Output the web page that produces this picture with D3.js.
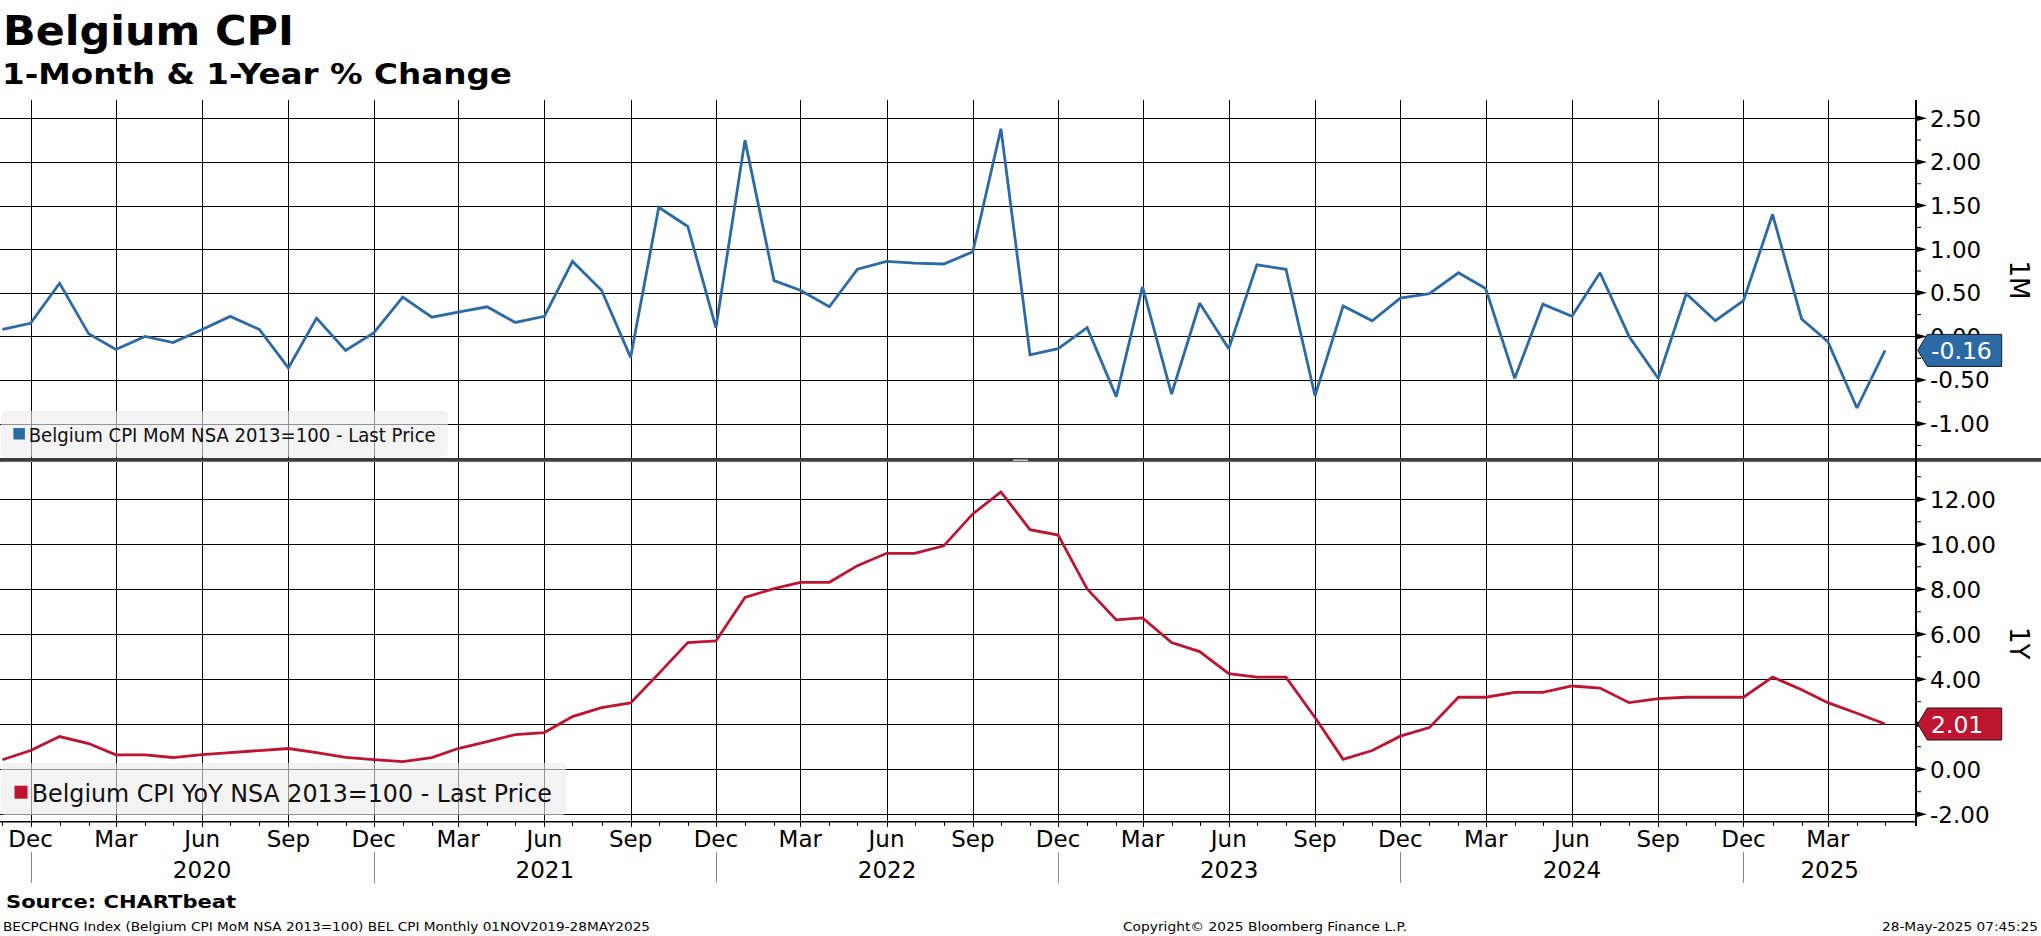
<!DOCTYPE html>
<html>
<head>
<meta charset="utf-8">
<script src="https://cdn.jsdelivr.net/npm/d3@7"></script>
<style>
  html, body { margin: 0; padding: 0; background: #ffffff; }
  svg { display: block; }
  text { font-family: "DejaVu Sans", "Noto Sans", sans-serif; }
</style>
</head>
<body>
<script>
// ---------------- DATA ----------------
const months = [
  "2019-11","2019-12",
  "2020-01","2020-02","2020-03","2020-04","2020-05","2020-06","2020-07","2020-08","2020-09","2020-10","2020-11","2020-12",
  "2021-01","2021-02","2021-03","2021-04","2021-05","2021-06","2021-07","2021-08","2021-09","2021-10","2021-11","2021-12",
  "2022-01","2022-02","2022-03","2022-04","2022-05","2022-06","2022-07","2022-08","2022-09","2022-10","2022-11","2022-12",
  "2023-01","2023-02","2023-03","2023-04","2023-05","2023-06","2023-07","2023-08","2023-09","2023-10","2023-11","2023-12",
  "2024-01","2024-02","2024-03","2024-04","2024-05","2024-06","2024-07","2024-08","2024-09","2024-10","2024-11","2024-12",
  "2025-01","2025-02","2025-03","2025-04","2025-05"
];

// Belgium CPI MoM (%)
const momValues = [
  0.08, 0.15,
  0.61, 0.03, -0.15, 0.00, -0.07, 0.08, 0.23, 0.08, -0.36, 0.21, -0.16, 0.04,
  0.45, 0.22, 0.28, 0.34, 0.16, 0.23, 0.86, 0.53, -0.24, 1.48, 1.26, 0.10,
  2.25, 0.64, 0.53, 0.34, 0.77, 0.86, 0.84, 0.83, 0.97, 2.38, -0.21, -0.14,
  0.10, -0.69, 0.57, -0.66, 0.38, -0.14, 0.82, 0.77, -0.68, 0.35, 0.18, 0.44,
  0.49, 0.73, 0.55, -0.48, 0.37, 0.23, 0.73, 0.00, -0.48, 0.49, 0.18, 0.41,
  1.40, 0.20, -0.06, -0.82, -0.16
];

// Belgium CPI YoY (%)
const yoyValues = [
  0.42, 0.83,
  1.45, 1.14, 0.64, 0.64, 0.52, 0.65, 0.74, 0.83, 0.92, 0.74, 0.53, 0.43,
  0.34, 0.52, 0.92, 1.23, 1.54, 1.63, 2.34, 2.74, 2.95, 4.25, 5.63, 5.70,
  7.64, 8.03, 8.31, 8.31, 9.05, 9.60, 9.60, 9.93, 11.35, 12.33, 10.65, 10.41,
  8.01, 6.64, 6.73, 5.63, 5.23, 4.25, 4.09, 4.09, 2.30, 0.44, 0.83, 1.47,
  1.85, 3.20, 3.20, 3.42, 3.42, 3.70, 3.61, 2.96, 3.14, 3.20, 3.20, 3.20,
  4.10, 3.53, 2.96, 2.49, 2.01
];

const topTicks = [2.5, 2.0, 1.5, 1.0, 0.5, 0.0, -0.5, -1.0];
const topMinorTicks = [2.25, 1.75, 1.25, 0.75, 0.25, -0.25, -0.75, -1.25];
const botTicks = [12, 10, 8, 6, 4, 2, 0, -2];
const botMinorTicks = [13, 11, 9, 7, 5, 3, 1, -1];
const yearLabels = ["2020", "2021", "2022", "2023", "2024", "2025"];

const titleText = "Belgium CPI";
const subtitleText = "1-Month & 1-Year % Change";
const legendTop = "Belgium CPI MoM NSA 2013=100 - Last Price";
const legendBot = "Belgium CPI YoY NSA 2013=100 - Last Price";
const axisTitleTop = "1M";
const axisTitleBot = "1Y";
const sourceText = "Source: CHARTbeat";
const footerLeft = "BECPCHNG Index (Belgium CPI MoM NSA 2013=100) BEL CPI  Monthly 01NOV2019-28MAY2025";
const footerMid = "Copyright\u00A9 2025 Bloomberg Finance L.P.";
const footerRight = "28-May-2025 07:45:25";

// ---------------- LAYOUT ----------------
const W = 2041, H = 936;
const plotL = 0, plotR = 1916;
const topY0 = 100, topY1 = 458;
const divY = 460;
const botY0 = 462, axisY = 821.7;
const BLUE = "#2c6aa6", RED = "#bf142f";

const parse = d3.utcParse("%Y-%m");
const dates = months.map(parse);
const locale = d3.formatLocale({ decimal: ".", thousands: ",", grouping: [3], currency: ["", ""], minus: "-" });
const fmt2 = locale.format(".2f");

const x = d3.scaleUtc()
  .domain([new Date(Date.UTC(2019, 9, 31)), new Date(Date.UTC(2025, 5, 3))])
  .range([1.5, 1916]);
const yTop = d3.scaleLinear().domain([-1, 2.5]).range([423.7, 118.3]);
const yBot = d3.scaleLinear().domain([-2, 12]).range([814.2, 499.3]);

const svg = d3.select("body").append("svg")
  .attr("width", W).attr("height", H)
  .attr("viewBox", `0 0 ${W} ${H}`);
svg.append("rect").attr("width", W).attr("height", H).attr("fill", "#fff");

// ---------------- TITLES ----------------
svg.append("text").attr("x", 3).attr("y", 45)
  .attr("font-size", 41).attr("font-weight", "bold")
  .attr("textLength", 291).attr("lengthAdjust", "spacingAndGlyphs")
  .text(titleText);
svg.append("text").attr("x", 2).attr("y", 83.5)
  .attr("font-size", 29).attr("font-weight", "bold")
  .attr("textLength", 510).attr("lengthAdjust", "spacingAndGlyphs")
  .text(subtitleText);

// ---------------- GRID ----------------
const allMonths = d3.utcMonth.range(x.domain()[0], x.domain()[1]);
const quarterTicks = allMonths.filter(d => d.getUTCMonth() % 3 === 2 && x(d) < plotR - 20);
const decTicks = allMonths.filter(d => d.getUTCMonth() === 11);

const grid = svg.append("g").attr("stroke", "#000").attr("stroke-width", 1).attr("shape-rendering", "crispEdges");
grid.selectAll(".vt").data(quarterTicks).join("line")
  .attr("x1", d => Math.round(x(d)) + 0.5).attr("x2", d => Math.round(x(d)) + 0.5)
  .attr("y1", topY0).attr("y2", topY1);
grid.selectAll(".vb").data(quarterTicks).join("line")
  .attr("x1", d => Math.round(x(d)) + 0.5).attr("x2", d => Math.round(x(d)) + 0.5)
  .attr("y1", botY0).attr("y2", axisY);
grid.selectAll(".ht").data(topTicks).join("line")
  .attr("x1", plotL).attr("x2", plotR)
  .attr("y1", d => Math.round(yTop(d)) + 0.5).attr("y2", d => Math.round(yTop(d)) + 0.5);
grid.selectAll(".hb").data(botTicks).join("line")
  .attr("x1", plotL).attr("x2", plotR)
  .attr("y1", d => Math.round(yBot(d)) + 0.5).attr("y2", d => Math.round(yBot(d)) + 0.5);

// ---------------- LEGENDS (semi-transparent) ----------------
svg.append("rect").attr("x", 1).attr("y", 411).attr("width", 447).attr("height", 46)
  .attr("rx", 4).attr("fill", "#ececec").attr("fill-opacity", 0.62);
svg.append("rect").attr("x", 13.4).attr("y", 428).attr("width", 11.5).attr("height", 11.5).attr("fill", BLUE);
svg.append("text").attr("x", 28.7).attr("y", 442.3).attr("font-size", 19)
  .attr("textLength", 407).attr("lengthAdjust", "spacingAndGlyphs").attr("fill", "#111")
  .text(legendTop);

svg.append("rect").attr("x", 1).attr("y", 763).attr("width", 565).attr("height", 52)
  .attr("rx", 4).attr("fill", "#ececec").attr("fill-opacity", 0.62);
svg.append("rect").attr("x", 14.5).attr("y", 785.7).attr("width", 13).attr("height", 13).attr("fill", RED);
svg.append("text").attr("x", 31.8).attr("y", 801.7).attr("font-size", 25)
  .attr("textLength", 520).attr("lengthAdjust", "spacingAndGlyphs").attr("fill", "#111")
  .text(legendBot);

// ---------------- LINES ----------------
const momLine = d3.line().x((d, i) => x(dates[i])).y(d => yTop(d));
const yoyLine = d3.line().x((d, i) => x(dates[i])).y(d => yBot(d));
svg.append("path").datum(momValues).attr("d", momLine)
  .attr("fill", "none").attr("stroke", BLUE).attr("stroke-width", 2.8)
  .attr("stroke-linejoin", "miter").attr("stroke-miterlimit", 2);
svg.append("path").datum(yoyValues).attr("d", yoyLine)
  .attr("fill", "none").attr("stroke", RED).attr("stroke-width", 2.8)
  .attr("stroke-linejoin", "miter").attr("stroke-miterlimit", 2);

// ---------------- DIVIDER ----------------
svg.append("rect").attr("x", 0).attr("y", divY - 2).attr("width", W).attr("height", 4).attr("fill", "#3c3c3c");
svg.append("rect").attr("x", 0).attr("y", divY + 1.3).attr("width", W).attr("height", 0.8).attr("fill", "#888");
svg.append("rect").attr("x", 1013).attr("y", divY - 0.5).attr("width", 15).attr("height", 1.5).attr("fill", "#c8c8c8");

// ---------------- X AXIS ----------------
svg.append("line").attr("x1", 0).attr("x2", plotR).attr("y1", axisY).attr("y2", axisY)
  .attr("stroke", "#000").attr("stroke-width", 1.6);
svg.append("g").attr("stroke", "#000").attr("stroke-width", 1).attr("shape-rendering", "crispEdges")
  .selectAll("line").data(allMonths.filter(d => x(d) >= 0 && x(d) < plotR - 2)).join("line")
  .attr("x1", d => Math.round(x(d)) + 0.5).attr("x2", d => Math.round(x(d)) + 0.5)
  .attr("y1", axisY).attr("y2", d => d.getUTCMonth() % 3 === 2 ? axisY + 5.5 : axisY + 4);

const fmtMonth = d3.utcFormat("%b");
svg.append("g").selectAll("text").data(quarterTicks).join("text")
  .attr("x", d => x(d)).attr("y", 847.3)
  .attr("text-anchor", "middle").attr("font-size", 23).attr("fill", "#000")
  .text(d => fmtMonth(d));

svg.append("g").attr("stroke", "#8a8a8a").attr("stroke-width", 1).attr("shape-rendering", "crispEdges")
  .selectAll("line").data(decTicks).join("line")
  .attr("x1", d => Math.round(x(d)) + 0.5).attr("x2", d => Math.round(x(d)) + 0.5)
  .attr("y1", 852).attr("y2", 883);

svg.append("g").selectAll("text").data(yearLabels).join("text")
  .attr("x", (d, i) => {
    const a = x(decTicks[i]);
    const b = i + 1 < decTicks.length ? x(decTicks[i + 1]) : plotR;
    return (a + b) / 2;
  })
  .attr("y", 878.3).attr("text-anchor", "middle").attr("font-size", 23).attr("fill", "#000")
  .text(d => d);

// ---------------- RIGHT AXIS ----------------
svg.append("line").attr("x1", plotR).attr("x2", plotR).attr("y1", topY0).attr("y2", 826)
  .attr("stroke", "#000").attr("stroke-width", 2);

function rightAxis(scale, ticks, minor) {
  const g = svg.append("g");
  g.selectAll("path").data(ticks).join("path")
    .attr("d", d => { const y = scale(d); return `M${plotR},${y - 3}L${plotR + 11},${y}L${plotR},${y + 3}Z`; })
    .attr("fill", "#000");
  g.selectAll("line").data(minor).join("line")
    .attr("x1", plotR).attr("x2", plotR + 5)
    .attr("y1", d => scale(d)).attr("y2", d => scale(d))
    .attr("stroke", "#000").attr("stroke-width", 1);
  g.selectAll("text").data(ticks).join("text")
    .attr("x", 1930).attr("y", d => scale(d) + 8.4)
    .attr("font-size", 23).attr("fill", "#000")
    .text(d => fmt2(d));
}
rightAxis(yTop, topTicks, topMinorTicks);
rightAxis(yBot, botTicks, botMinorTicks);

svg.append("text").attr("transform", `translate(2009.5, ${(topY0 + divY) / 2}) rotate(90)`)
  .attr("text-anchor", "middle").attr("font-size", 26).attr("fill", "#000").text(axisTitleTop);
svg.append("text").attr("transform", `translate(2009.5, ${yBot(5.6)}) rotate(90)`)
  .attr("text-anchor", "middle").attr("font-size", 26).attr("fill", "#000").text(axisTitleBot);

// last value tags
function lastTag(scale, value, fill) {
  const y = scale(value);
  const tipX = plotR + 1.7, bx = 1927.3, ex = 2001.7, h = 16;
  svg.append("path")
    .attr("d", `M${tipX},${y}L${bx},${y - h}L${ex},${y - h}L${ex},${y + h}L${bx},${y + h}Z`)
    .attr("fill", fill).attr("stroke", "#1b1b1b").attr("stroke-width", 1);
  svg.append("text").attr("x", 1931).attr("y", y + 8.6)
    .attr("font-size", 23.5).attr("fill", "#fff")
    .text(fmt2(value));
}
lastTag(yTop, momValues[momValues.length - 1], BLUE);
lastTag(yBot, yoyValues[yoyValues.length - 1], RED);

// ---------------- FOOTER ----------------
svg.append("text").attr("x", 6).attr("y", 908.3).attr("font-size", 18).attr("font-weight", "bold")
  .attr("textLength", 230).attr("lengthAdjust", "spacingAndGlyphs").text(sourceText);
svg.append("text").attr("x", 3).attr("y", 930.7).attr("font-size", 13)
  .attr("textLength", 647).attr("lengthAdjust", "spacingAndGlyphs").text(footerLeft);
svg.append("text").attr("x", 1123).attr("y", 930.7).attr("font-size", 13)
  .attr("textLength", 284).attr("lengthAdjust", "spacingAndGlyphs").text(footerMid);
svg.append("text").attr("x", 1882).attr("y", 930.7).attr("font-size", 13)
  .attr("textLength", 156).attr("lengthAdjust", "spacingAndGlyphs").text(footerRight);
</script>
</body>
</html>
